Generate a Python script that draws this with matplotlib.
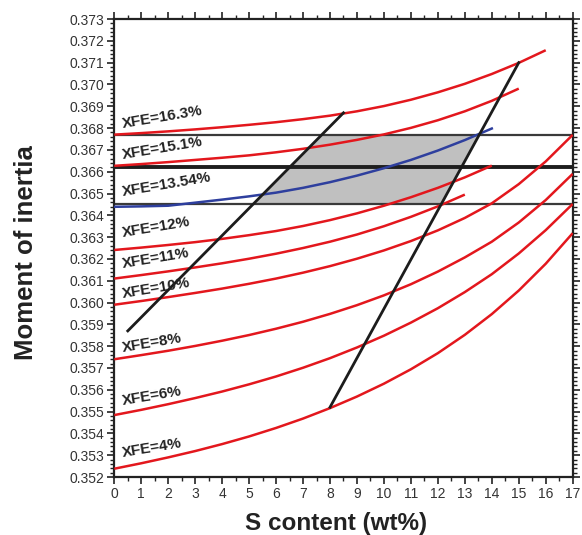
import matplotlib
matplotlib.use('Agg')
import matplotlib.pyplot as plt
from matplotlib.ticker import MultipleLocator, FormatStrFormatter

plt.rcParams['font.family'] = ['Liberation Sans', 'DejaVu Sans']

# curves: S content (wt%) -> moment of inertia, one per XFE value
s_04 = [0, 1, 2, 3, 4, 5, 6, 7, 8, 9, 10, 11, 12, 13, 14, 15, 16, 17]
moi_04 = [0.35238, 0.35263, 0.35290, 0.35319, 0.35351, 0.35386, 0.35425, 0.35468, 0.35516,
          0.35569, 0.35628, 0.35694, 0.35768, 0.35852, 0.35947, 0.36055, 0.36178, 0.36318]
s_06 = s_04
moi_06 = [0.35484, 0.35508, 0.35534, 0.35562, 0.35592, 0.35625, 0.35661, 0.35701, 0.35745,
          0.35794, 0.35848, 0.35908, 0.35974, 0.36048, 0.36130, 0.36225, 0.36332, 0.36452]
s_08 = s_04
moi_08 = [0.35740, 0.35759, 0.35779, 0.35801, 0.35825, 0.35851, 0.35880, 0.35912, 0.35948,
          0.35988, 0.36033, 0.36084, 0.36142, 0.36207, 0.36279, 0.36367, 0.36470, 0.36590]
s_10 = s_04
moi_10 = [0.35990, 0.36007, 0.36025, 0.36044, 0.36064, 0.36086, 0.36110, 0.36137, 0.36167,
          0.36201, 0.36239, 0.36282, 0.36331, 0.36388, 0.36455, 0.36543, 0.36647, 0.36769]
s_11 = [0, 1, 2, 3, 4, 5, 6, 7, 8, 9, 10, 11, 12, 13]
moi_11 = [0.36110, 0.36126, 0.36143, 0.36161, 0.36180, 0.36201, 0.36224, 0.36250, 0.36279,
          0.36312, 0.36350, 0.36393, 0.36441, 0.36495]
s_12 = [0, 1, 2, 3, 4, 5, 6, 7, 8, 9, 10, 11, 12, 13, 14]
moi_12 = [0.36241, 0.36252, 0.36264, 0.36277, 0.36292, 0.36309, 0.36328, 0.36351, 0.36378,
          0.36409, 0.36444, 0.36483, 0.36526, 0.36574, 0.36628]
s_1354 = [0, 1, 2, 3, 4, 5, 6, 7, 8, 9, 10, 11, 12, 13, 14]
moi_1354 = [0.36439, 0.36441, 0.36444, 0.36458, 0.36472, 0.36487, 0.36504, 0.36526, 0.36552,
            0.36582, 0.36616, 0.36654, 0.36697, 0.36745, 0.36798]
s_151 = [0, 1, 2, 3, 4, 5, 6, 7, 8, 9, 10, 11, 12, 13, 14, 15]
moi_151 = [0.36627, 0.36635, 0.36644, 0.36654, 0.36664, 0.36675, 0.36689, 0.36705, 0.36724,
           0.36746, 0.36771, 0.36801, 0.36836, 0.36877, 0.36925, 0.36981]
s_163 = [0, 1, 2, 3, 4, 5, 6, 7, 8, 9, 10, 11, 12, 13, 14, 15, 16]
moi_163 = [0.36770, 0.36777, 0.36785, 0.36794, 0.36804, 0.36815, 0.36827, 0.36841, 0.36857,
           0.36877, 0.36901, 0.36930, 0.36964, 0.37003, 0.37048, 0.37099, 0.37157]

# curve labels: text, anchor (S, moment)
labels = ['XFE=16.3%', 'XFE=15.1%', 'XFE=13.54%', 'XFE=12%', 'XFE=11%',
          'XFE=10%', 'XFE=8%', 'XFE=6%', 'XFE=4%']
label_s = [0.3, 0.3, 0.3, 0.3, 0.3, 0.3, 0.3, 0.3, 0.3]
label_moi = [0.3680, 0.3666, 0.3649, 0.3630, 0.3616, 0.3602, 0.35775, 0.3553, 0.3529]

# the two black guide lines (start, end)
left_s = [0.5, 8.5]
left_moi = [0.3587, 0.3687]
right_s = [8.0, 15.0]
right_moi = [0.3552, 0.3710]

# horizontal reference levels
h_low, h_mid, h_high = 0.3645, 0.3662, 0.3677

red = '#e3171d'
blue = '#2e3f9e'
dark = '#1c1c1c'

fig = plt.figure(figsize=(5.82, 5.35), dpi=100)
ax = fig.add_axes([0.1964, 0.1084, 0.7876, 0.856])


def x_at(xs, ys, y):
    return xs[0] + (y - ys[0]) * (xs[1] - xs[0]) / (ys[1] - ys[0])


# shaded band between the guide lines
poly_x = [x_at(left_s, left_moi, h_low), x_at(right_s, right_moi, h_low),
          x_at(right_s, right_moi, h_high), x_at(left_s, left_moi, h_high)]
poly_y = [h_low, h_low, h_high, h_high]
ax.fill(poly_x, poly_y, color='#c0c0c0', lw=0, zorder=1)

ax.axhline(h_high, color='#3a3a3a', lw=1.6, zorder=2)
ax.axhline(h_mid, color='#1e1e1e', lw=2.8, zorder=2)
ax.axhline(h_low, color='#3a3a3a', lw=1.6, zorder=2)

for s, m in [(s_04, moi_04), (s_06, moi_06), (s_08, moi_08), (s_10, moi_10),
             (s_11, moi_11), (s_12, moi_12), (s_151, moi_151), (s_163, moi_163)]:
    ax.plot(s, m, color=red, lw=1.8, zorder=3, solid_capstyle='butt')
ax.plot(s_1354, moi_1354, color=blue, lw=1.8, zorder=3)

ax.plot(left_s, left_moi, color=dark, lw=2.0, zorder=4)
ax.plot(right_s, right_moi, color=dark, lw=2.0, zorder=4)

for t, xs, ys in zip(labels, label_s, label_moi):
    ax.text(xs, ys, t, fontsize=11, fontweight='bold', color='#222222',
            rotation=9.5, rotation_mode='anchor', ha='left', va='baseline', zorder=5)

ax.set_xlim(0, 17)
ax.set_ylim(0.352, 0.373)
ax.xaxis.set_major_locator(MultipleLocator(1))
ax.xaxis.set_minor_locator(MultipleLocator(0.5))
ax.yaxis.set_major_locator(MultipleLocator(0.001))
ax.yaxis.set_minor_locator(MultipleLocator(0.0002))
ax.yaxis.set_major_formatter(FormatStrFormatter('%.3f'))

ax.tick_params(which='both', direction='out', top=True, right=True,
               color='#222222', labelcolor='#333333', labelsize=10)
ax.tick_params(which='major', length=5, width=1.2, pad=2)
ax.tick_params(which='minor', length=3, width=1.0)
for sp in ax.spines.values():
    sp.set_linewidth(1.6)
    sp.set_color('#222222')

fig.text(0.578, 0.01, 'S content (wt%)', fontsize=17.5, fontweight='bold',
         color='#222222', ha='center', va='baseline')
fig.text(0.045, 0.528, 'Moment of inertia', fontsize=18.5, fontweight='bold',
         color='#222222', ha='center', va='center', rotation=90)

fig.savefig('out.png', dpi=100)
